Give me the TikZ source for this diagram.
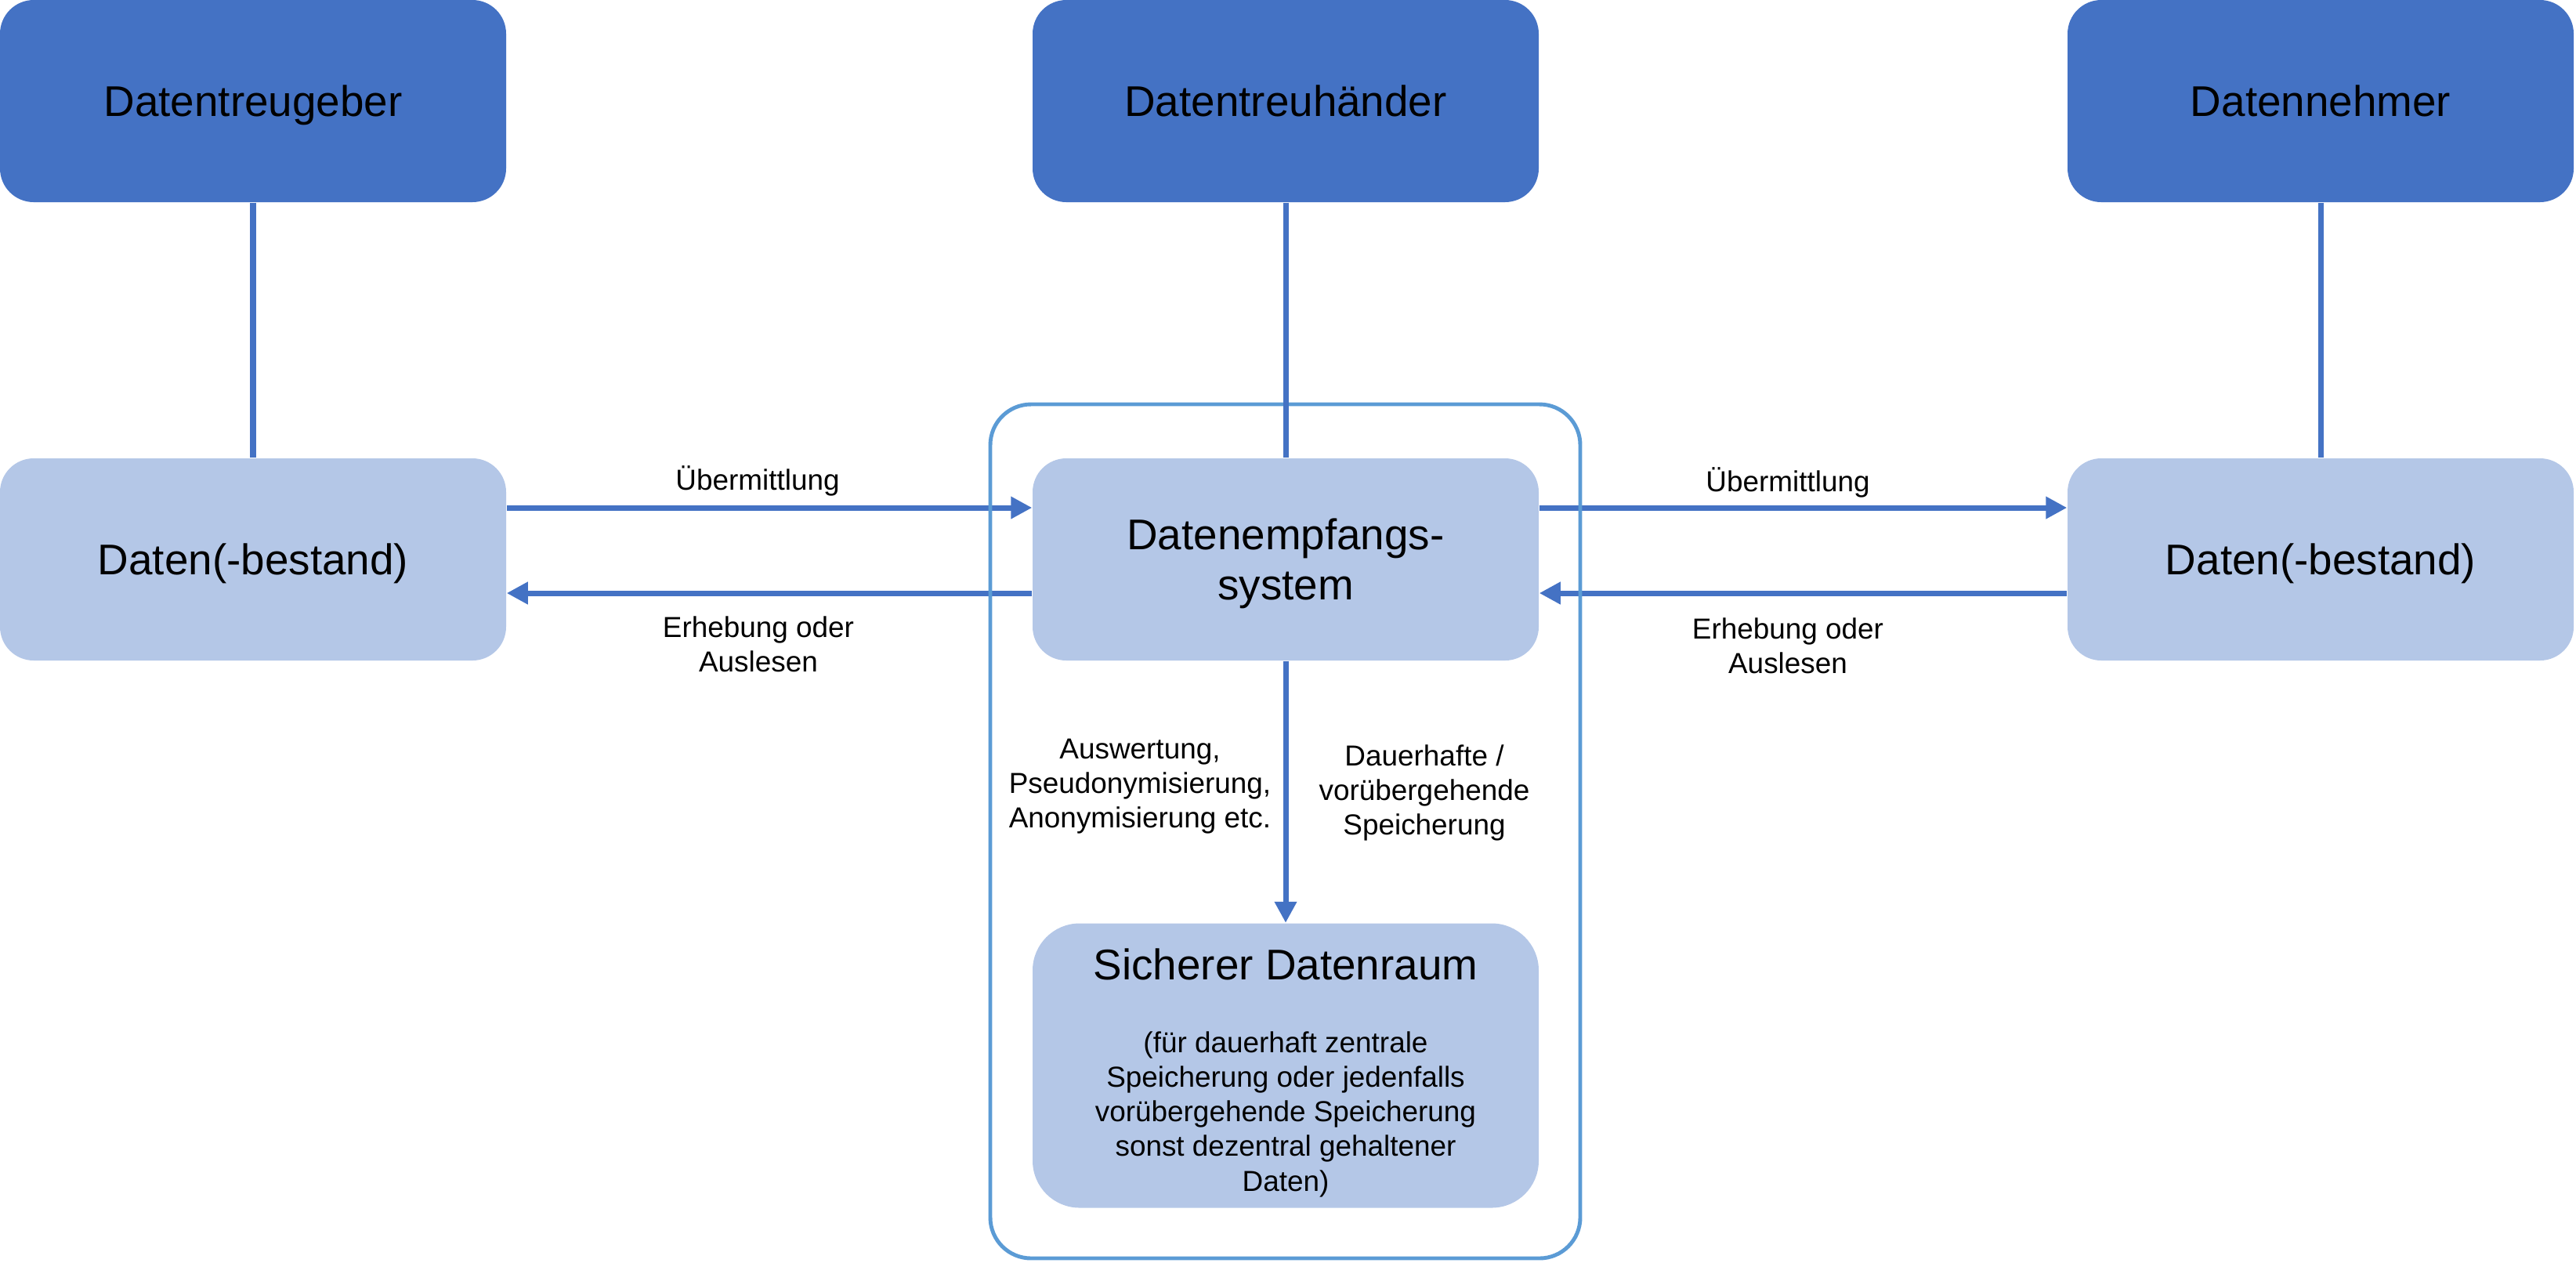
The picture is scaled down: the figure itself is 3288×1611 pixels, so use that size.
\documentclass[tikz,border=0pt]{standalone}
\usepackage{fontspec}
\setmainfont{Liberation Sans}
\usetikzlibrary{arrows.meta}
\definecolor{darkbox}{HTML}{4472C4}
\definecolor{lightbox}{HTML}{B4C7E7}
\definecolor{framec}{HTML}{5B9BD5}
\definecolor{arrowc}{HTML}{4472C4}
\tikzset{
  topbox/.style={fill=darkbox, draw=none, rounded corners=4.3mm, minimum width=64.6mm, minimum height=25.8mm, inner sep=0pt, align=center, text depth=0pt, font=\fontsize{15.6}{18.2}\selectfont},
  databox/.style={topbox, fill=lightbox},
  safebox/.style={fill=lightbox, draw=none, rounded corners=6mm, minimum width=64.6mm, minimum height=36.3mm, inner sep=0pt},
  framebox/.style={draw=framec, line width=1.4pt, rounded corners=5.2mm, minimum width=75.3mm, minimum height=109mm, inner sep=0pt},
  conn/.style={draw=arrowc, line width=2pt},
  arr/.style={conn, -{Triangle[length=7.7pt,width=7.7pt]}},
  lbl/.style={font=\fontsize{10.5}{12.5}\selectfont, align=center, inner sep=0pt},
  titletext/.style={font=\fontsize{15.6}{17.9}\selectfont, inner sep=0pt}
}
\begin{document}
\begin{tikzpicture}[x=0.1mm,y=-0.1mm]
\useasboundingbox (0,0) rectangle (3288,1611);

% top row
\node[topbox] (geber) at (323,129) {Datentreugeber};
\node[topbox] (haender) at (1641,129) {Datentreuhänder};
\node[topbox] (nehmer) at (2962,129) {Datennehmer};

% middle row
\node[databox] (dl) at (323,714) {Daten(-bestand)};
\node[databox] (empf) at (1641,714) {Datenempfangs-\\system};
\node[databox] (dr) at (2962,714) {Daten(-bestand)};

% safe data room
\node[safebox] (sdr) at (1641,1360) {};
\node[titletext, anchor=base] (sdrtitle) at (1641,1250) {Sicherer Datenraum};
\node[lbl, font=\fontsize{10.5}{12.6}\selectfont] (sdrtext) at (1641,1422) {(für dauerhaft zentrale\\Speicherung oder jedenfalls\\vorübergehende Speicherung\\sonst dezentral gehaltener\\Daten)};

% horizontal arrows
\draw[arr] ([yshift=6.6mm]dl.east) -- ([yshift=6.6mm]empf.west);
\draw[arr] ([yshift=-4.3mm]empf.west) -- ([yshift=-4.3mm]dl.east);
\draw[arr] ([yshift=6.6mm]empf.east) -- ([yshift=6.6mm]dr.west);
\draw[arr] ([yshift=-4.3mm]dr.west) -- ([yshift=-4.3mm]empf.east);

% container frame
\node[framebox] (frame) at (1640.5,1061) {};

% vertical connectors
\draw[conn] (geber.south) -- (dl.north);
\draw[conn] (haender.south) -- (empf.north);
\draw[conn] (nehmer.south) -- (dr.north);
\draw[arr] (empf.south) -- (sdr.north);

% labels
\node[lbl, anchor=base] (u1) at (967,625) {Übermittlung};
\node[lbl] (e1) at (968,822) {Erhebung oder\\Auslesen};
\node[lbl, anchor=base] (u2) at (2282,627) {Übermittlung};
\node[lbl] (e2) at (2282,824) {Erhebung oder\\Auslesen};
\node[lbl] (ausw) at (1455,1004) {Auswertung,\\Pseudonymisierung,\\Anonymisierung etc.};
\node[lbl] (dauer) at (1818,1012) {Dauerhafte /\\vorübergehende\\Speicherung};
\end{tikzpicture}
\end{document}
